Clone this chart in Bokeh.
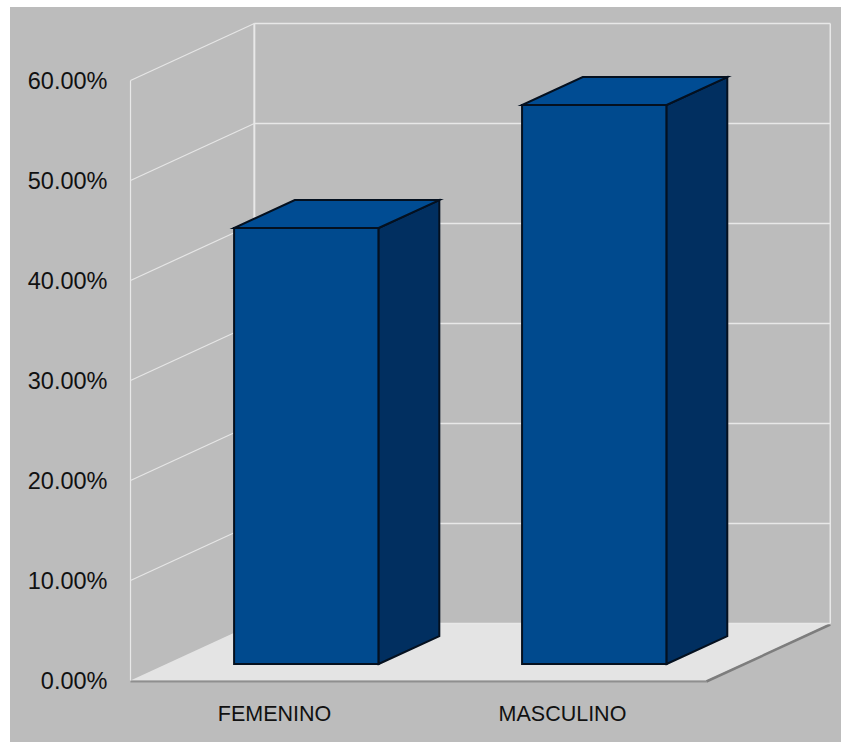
from bokeh.plotting import figure
from bokeh.embed import file_html
from bokeh.resources import INLINE
from bokeh.models import Range1d, FixedTicker

categories = ["FEMENINO", "MASCULINO"]
values = [43.6, 55.9]
ticks = [0, 10, 20, 30, 40, 50, 60]
tick_labels = ["0.00%", "10.00%", "20.00%", "30.00%", "40.00%", "50.00%", "60.00%"]

GRAY = "#bcbcbc"
DX, DY = 0.43, 5.7   # oblique shift of the full depth, in x units and y percent
WALL_RIGHT = 2.0
BAR_D0, BAR_D1 = 0.29, 0.78
BAR_HALF, BAR_SHIFT = 0.251, -0.014


def proj(x, depth, y):
    return x + depth * DX, y + depth * DY


p = figure(width=831, height=735, output_backend="svg", toolbar_location=None,
           x_range=Range1d(-0.0174, 2.469), y_range=Range1d(-0.4, 67.3),
           min_border_left=115, min_border_right=0, min_border_top=0, min_border_bottom=58,
           background_fill_color=None, border_fill_color=None)
p.outline_line_color = None
p.grid.visible = False

# axes
ya = p.yaxis[0]
ya.ticker = FixedTicker(ticks=ticks)
ya.major_label_overrides = dict(zip(ticks, tick_labels))
ya.axis_line_color = None
ya.major_tick_line_color = None
ya.minor_tick_line_color = None
ya.major_label_standoff = 12
ya.major_label_text_font = "Liberation Sans"
ya.major_label_text_font_size = "23.5px"
ya.major_label_text_color = "#111111"

centers = [i + 0.5 for i in range(len(categories))]
xa = p.xaxis[0]
xa.ticker = FixedTicker(ticks=centers)
xa.major_label_overrides = dict(zip(centers, categories))
xa.axis_line_color = None
xa.major_tick_line_color = None
xa.minor_tick_line_color = None
xa.major_label_standoff = 11
xa.major_label_text_font = "Liberation Sans"
xa.major_label_text_font_size = "21.5px"
xa.major_label_text_color = "#111111"

# floor
fx, fy = zip(proj(0, 0, 0), proj(0, 1, 0), proj(WALL_RIGHT, 1, 0), proj(WALL_RIGHT, 0, 0))
p.patch(list(fx), list(fy), fill_color="#e4e4e4", line_color=None)
p.line([0, WALL_RIGHT], [-0.1, -0.1], line_color="#8f8f8f", line_width=2)
ex, ey = zip(proj(WALL_RIGHT, 0, -0.1), proj(WALL_RIGHT, 1, -0.1))
p.line(list(ex), list(ey), line_color="#7d7d7d", line_width=2.5)

# walls: vertical edges and gridlines
top = ticks[-1]
for x, d, w in [(0, 0, 1.2), (0, 1, 2), (WALL_RIGHT, 1, 1.5)]:
    ax, ay = proj(x, d, 0)
    bx, by = proj(x, d, top)
    p.line([ax, bx], [ay, by], line_color="#e8e8e8", line_width=w)
for t in ticks:
    ax, ay = proj(0, 0, t)
    bx, by = proj(0, 1, t)
    cx, cy = proj(WALL_RIGHT, 1, t)
    if t > 0:
        p.line([ax, bx], [ay, by], line_color="#e6e6e6", line_width=1.2)
    p.line([bx, cx], [by, cy], line_color="#e8e8e8", line_width=1.6)

# bars
for c, v in zip(centers, values):
    l = c + BAR_SHIFT - BAR_HALF
    r = c + BAR_SHIFT + BAR_HALF
    f_bl = proj(l, BAR_D0, 0); f_br = proj(r, BAR_D0, 0)
    f_tl = proj(l, BAR_D0, v); f_tr = proj(r, BAR_D0, v)
    b_br = proj(r, BAR_D1, 0); b_tr = proj(r, BAR_D1, v); b_tl = proj(l, BAR_D1, v)
    faces = [([f_bl, f_br, f_tr, f_tl], "#004a8e"),
             ([f_br, b_br, b_tr, f_tr], "#012f60"),
             ([f_tl, f_tr, b_tr, b_tl], "#004c93")]
    for pts, col in faces:
        xs, ys = zip(*pts)
        p.patch(list(xs), list(ys), fill_color=col, line_color="#04101f", line_width=2,
                line_join="miter")

html = file_html(p, INLINE)
# Bokeh's page template sets a zero body margin; the reference's white strip is 7px on top, 10px at left.
css = ("<style>html,body{overflow:hidden}body{padding:7px 0 0 10px;"
       "background:linear-gradient(#fff 7px,transparent 7px),"
       "linear-gradient(90deg,#fff 10px," + GRAY + " 10px)}</style>")
html = html.replace("</head>", css + "</head>", 1)
open("out.html", "w").write(html)
